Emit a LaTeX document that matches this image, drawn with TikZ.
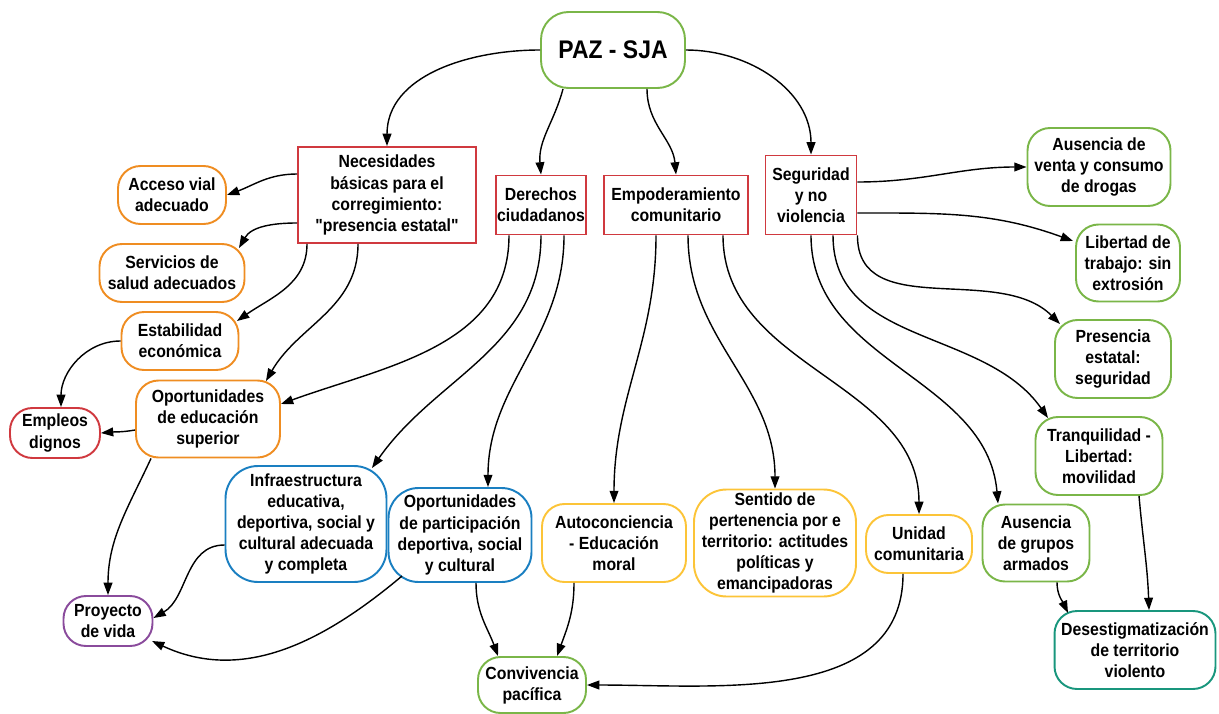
\documentclass[tikz,border=0pt]{standalone}
\usepackage{fontspec}
\setmainfont{Liberation Sans}[FakeStretch=0.9, Ligatures=TeXOff]
\usepackage{xcolor}
\usepackage{tikz}
\usetikzlibrary{arrows.meta}
\definecolor{verde}{HTML}{7AB648}
\definecolor{rojo}{HTML}{D0393F}
\definecolor{naranja}{HTML}{EF8D22}
\definecolor{azul}{HTML}{1A7FC1}
\definecolor{amarillo}{HTML}{FCC438}
\definecolor{morado}{HTML}{8A4B9C}
\definecolor{turquesa}{HTML}{19967D}
\def\largeur{1219}
\def\hauteur{713}

\begin{document}
\begin{tikzpicture}[x=0.02cm, y=-0.02cm,
  nodo/.style={align=center, inner sep=0pt, line width=1.1pt, font=\fontsize{10}{12}\selectfont\bfseries},
  tam/.style 2 args={minimum width=#1cm, minimum height=#2cm},
  caja/.style={nodo, draw=rojo},
  burbuja/.style={nodo, draw=#1, rounded corners=0.45cm},
  flecha/.style={line width=0.8pt, -{Triangle[length=7pt,width=5pt]}}]
\useasboundingbox (0,0) rectangle (\largeur,\hauteur);
%\draw[step=50, black!20!white] (0,0) grid (\largeur,\hauteur);

\node[burbuja=verde, tam={2.88}{1.52}, rounded corners=0.55cm, font=\fontsize{14.5}{17}\selectfont\bfseries] (paz) at (613,50) {PAZ - SJA};

\node[caja, tam={3.56}{1.92}] (necesidades) at (387,195) {Necesidades\\básicas para el\\corregimiento:\\"presencia estatal"};
\node[caja, tam={1.8}{1.18}] (derechos) at (541,205) {Derechos\\ciudadanos};
\node[caja, tam={2.88}{1.18}] (empoderamiento) at (676,205) {Empoderamiento\\comunitario};
\node[caja, tam={1.82}{1.58}] (seguridad) at (811,195) {Seguridad\\y no\\violencia};

\node[burbuja=naranja, tam={2.16}{1.16}] (acceso) at (172,195) {Acceso vial\\adecuado};
\node[burbuja=naranja, tam={2.9}{1.16}] (salud) at (172,273) {Servicios de\\salud adecuados};
\node[burbuja=naranja, tam={2.34}{1.16}] (estabilidad) at (180,341) {Estabilidad\\económica};
\node[burbuja=rojo, tam={1.8}{1.0}] (empleos) at (55,433) {Empleos\\dignos};
\node[burbuja=naranja, tam={2.88}{1.54}] (educacion) at (208,419) {Oportunidades\\de educación\\superior};
\node[burbuja=morado, tam={1.78}{1.0}] (proyecto) at (108,621) {Proyecto\\de vida};

\node[burbuja=azul, tam={3.22}{2.32}, rounded corners=0.65cm] (infraestructura) at (306,524) {Infraestructura\\educativa,\\deportiva, social y\\cultural adecuada\\y completa};
\node[burbuja=azul, tam={2.86}{1.88}, rounded corners=0.6cm] (participacion) at (460,535) {Oportunidades\\de participación\\deportiva, social\\y cultural};
\node[burbuja=amarillo, tam={2.88}{1.56}] (autoconciencia) at (614,543) {Autoconciencia\\- Educación\\moral};
\node[burbuja=verde, tam={2.16}{1.12}] (convivencia) at (532,685) {Convivencia\\pacífica};
\node[burbuja=amarillo, tam={3.24}{2.14}, rounded corners=0.65cm] (pertenencia) at (775,543) {Sentido de\\pertenencia por e\\territorio: actitudes\\políticas y\\emancipadoras};
\node[burbuja=amarillo, tam={2.12}{1.16}] (unidad) at (919,544) {Unidad\\comunitaria};
\node[burbuja=verde, tam={2.14}{1.54}] (grupos) at (1036,543) {Ausencia\\de grupos\\armados};

\node[burbuja=verde, tam={2.86}{1.56}] (drogas) at (1099,167) {Ausencia de\\venta y consumo\\de drogas};
\node[burbuja=verde, tam={2.08}{1.54}] (trabajo) at (1128,263) {Libertad de\\trabajo: sin\\extrosión};
\node[burbuja=verde, tam={2.32}{1.56}] (presencia) at (1113,359) {Presencia\\estatal:\\seguridad};
\node[burbuja=verde, tam={2.54}{1.56}] (tranquilidad) at (1099,456) {Tranquilidad -\\Libertad:\\movilidad};
\node[burbuja=turquesa, tam={3.22}{1.56}] (desestigma) at (1135,650) {Desestigmatización\\de territorio\\violento};

\draw[flecha] (paz.west) to[out=180,in=90] (necesidades.north);
\draw[flecha] ([shift={(-50,0)}]paz.south) to[out=-105,in=95] (derechos.north);
\draw[flecha] ([shift={(34,0)}]paz.south) to[out=-90,in=95] (empoderamiento.north);
\draw[flecha] (paz.east) to[out=0,in=90] (seguridad.north);

\draw[flecha] ([shift={(0,-21)}]necesidades.west) to[out=180,in=20] (acceso.east);
\draw[flecha] ([shift={(0,28)}]necesidades.west) to[out=180,in=60] ([shift={(67,-25)}]salud.center);
\draw[flecha] ([shift={(-80,0)}]necesidades.south) to[out=-90,in=35] ([shift={(57,-20)}]estabilidad.center);
\draw[flecha] ([shift={(-29,0)}]necesidades.south) to[out=-90,in=60] ([shift={(58,-38)}]educacion.center);
\draw[flecha] (estabilidad.west) to[out=180,in=90] ([shift={(6,0)}]empleos.north);
\draw[flecha] ([shift={(0,11)}]educacion.west) to[out=190,in=5] (empleos.east);
\draw[flecha] ([shift={(-57,0)}]educacion.south) to[out=-115,in=90] (proyecto.north);

\draw[flecha] ([shift={(-32,0)}]derechos.south) to[out=-90,in=20] ([shift={(0,-15)}]educacion.east);
\draw[flecha] (derechos.south) to[out=-90,in=55] ([shift={(66,-56)}]infraestructura.center);
\draw[flecha] ([shift={(23,0)}]derechos.south) to[out=-90,in=90] ([shift={(28,0)}]participacion.north);
\draw[flecha] ([shift={(0,21)}]infraestructura.west) to[out=180,in=30] ([shift={(0,-3)}]proyecto.east);
\draw[flecha] ([shift={(-58,41)}]participacion.center) to[out=-140,in=-25] ([shift={(44,20)}]proyecto.center);
\draw[flecha] ([shift={(16,0)}]participacion.south) to[out=-90,in=110] ([shift={(-34,0)}]convivencia.north);
\draw[flecha] ([shift={(-40,0)}]autoconciencia.south) to[out=-90,in=70] ([shift={(25,0)}]convivencia.north);
\draw[flecha] ([shift={(-16,0)}]unidad.south) to[out=-90,in=0] (convivencia.east);

\draw[flecha] ([shift={(-20,0)}]empoderamiento.south) to[out=-90,in=90] (autoconciencia.north);
\draw[flecha] ([shift={(12,0)}]empoderamiento.south) to[out=-90,in=90] (pertenencia.north);
\draw[flecha] ([shift={(47,0)}]empoderamiento.south) to[out=-90,in=90] (unidad.north);

\draw[flecha] (seguridad.south) to[out=-90,in=95] ([shift={(-38,0)}]grupos.north);
\draw[flecha] ([shift={(22,0)}]seguridad.south) to[out=-90,in=125] ([shift={(-51,-38)}]tranquilidad.center);
\draw[flecha] (seguridad.south east) to[out=-90,in=135] ([shift={(-53,-35)}]presencia.center);
\draw[flecha] ([shift={(0,-13)}]seguridad.east) to[out=0,in=180] (drogas.west);
\draw[flecha] ([shift={(0,18)}]seguridad.east) to[out=0,in=160] ([shift={(-55,-22)}]trabajo.center);
\draw[flecha] ([shift={(40,0)}]tranquilidad.south) to[out=-85,in=92] ([shift={(14,0)}]desestigma.north);
\draw[flecha] ([shift={(21,0)}]grupos.south) to[out=-90,in=115] ([shift={(-67,-37)}]desestigma.center);
\end{tikzpicture}
\end{document}
